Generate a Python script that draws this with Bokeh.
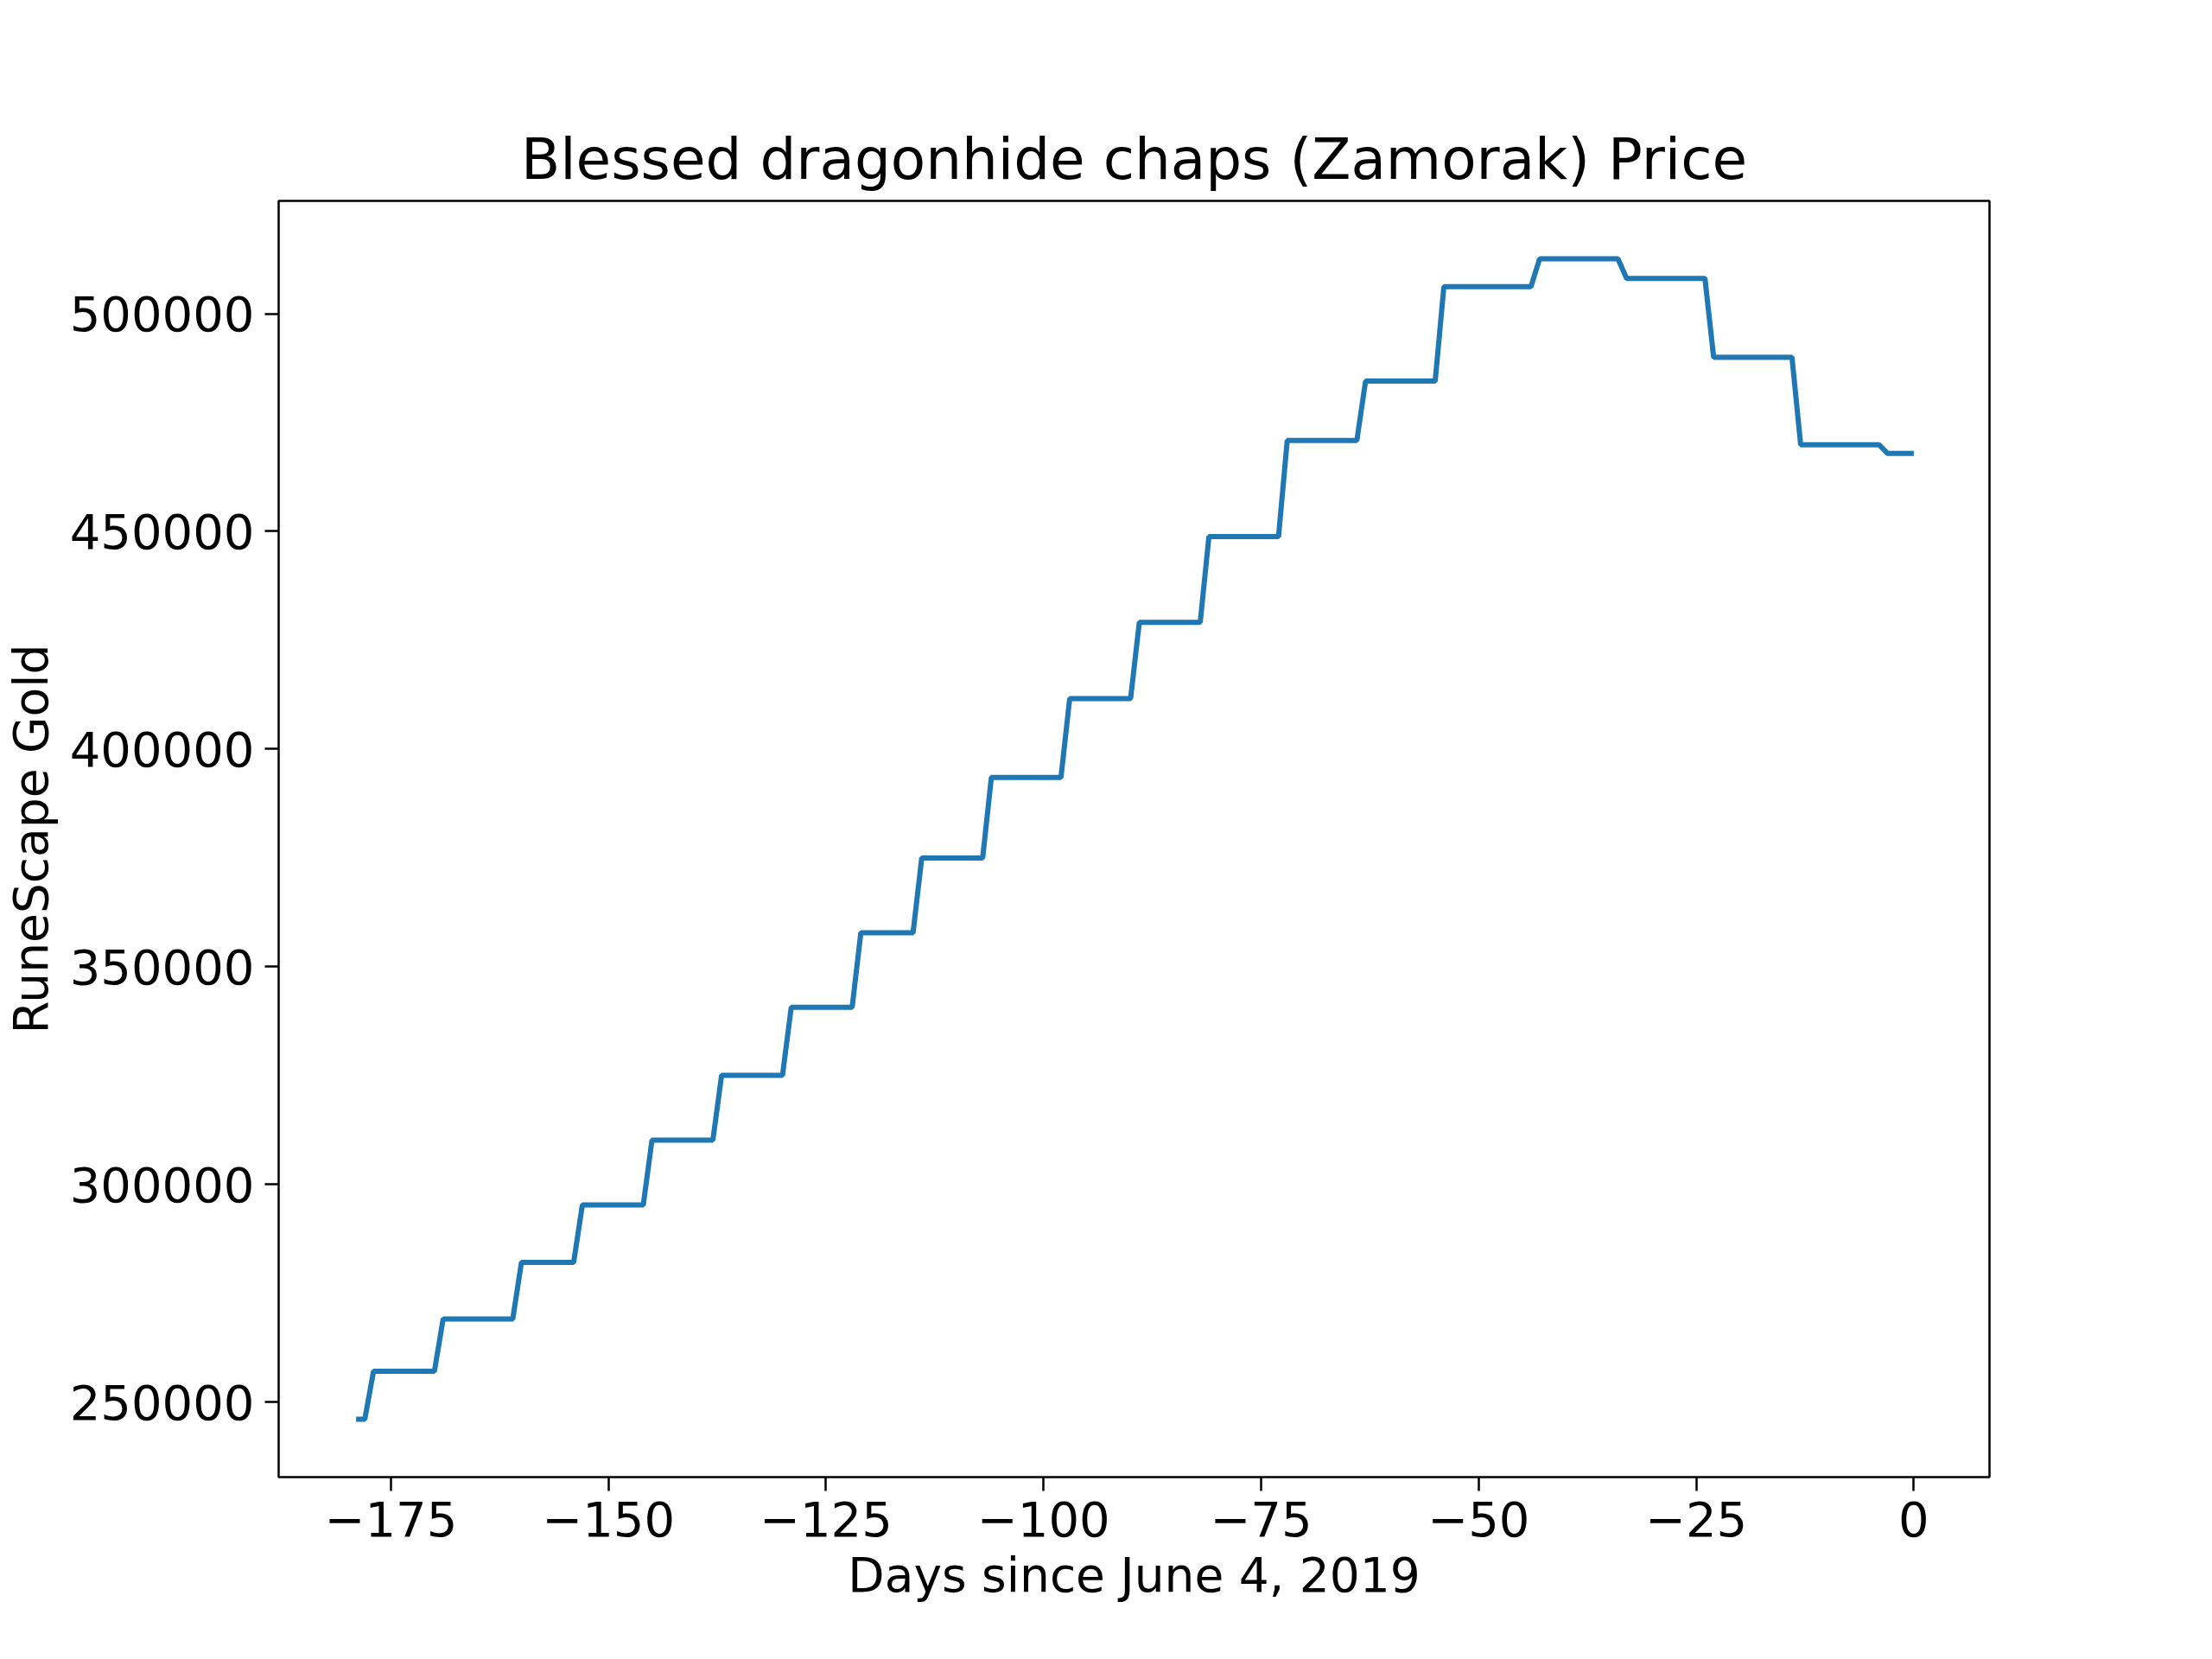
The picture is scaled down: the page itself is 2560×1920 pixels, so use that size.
from bokeh.plotting import figure
from bokeh.models import FixedTicker, Range1d
from bokeh.embed import file_html
from bokeh.resources import INLINE

# price history (day, gold) at each step corner
days = [-179, -178, -177, -170, -169, -161, -160, -154, -153, -146, -145, -138, -137,
        -130, -129, -122, -121, -115, -114, -107, -106, -98, -97, -90, -89, -82, -81,
        -73, -72, -64, -63, -55, -54, -44, -43, -34, -33, -24, -23, -14, -13, -4, -3, 0]
gold = [246100, 246100, 257100, 257100, 269100, 269100, 282100, 282100, 295300, 295300,
        310200, 310200, 325100, 325100, 340700, 340700, 357800, 357800, 375000, 375000,
        393500, 393500, 411600, 411600, 429100, 429100, 448800, 448800, 470900, 470900,
        484500, 484500, 506200, 506200, 512600, 512600, 508100, 508100, 490000, 490000,
        469900, 469900, 467900, 467900]

x_ticks = [-175, -150, -125, -100, -75, -50, -25, 0]
y_ticks = [250000, 300000, 350000, 400000, 450000, 500000]

FONT = "DejaVu Sans"

p = figure(width=2544, height=1904, output_backend="svg", toolbar_location=None,
           title="Blessed dragonhide chaps (Zamorak) Price",
           x_axis_label="Days since June 4, 2019", y_axis_label="RuneScape Gold",
           x_range=Range1d(-187.9, 8.7), y_range=Range1d(232800, 525900),
           min_border_left=320, min_border_right=242, min_border_top=232, min_border_bottom=195)

p.line(days, gold, line_width=6, color="#1f77b4")

p.xgrid.visible = False
p.ygrid.visible = False
p.outline_line_color = "black"
p.outline_line_width = 2.5

p.title.align = "center"
p.title.text_font = FONT
p.title.text_font_size = "66px"
p.title.text_font_style = "normal"
p.title.text_color = "black"
p.title.standoff = 20

p.xaxis.ticker = FixedTicker(ticks=x_ticks)
p.yaxis.ticker = FixedTicker(ticks=y_ticks)
p.xaxis.major_label_overrides = {t: str(t).replace("-", "\u2212") for t in x_ticks}
p.yaxis.major_label_overrides = {t: str(t) for t in y_ticks}

for ax in (p.xaxis, p.yaxis):
    ax.axis_line_color = None
    ax.minor_tick_line_color = None
    ax.major_tick_in = 0
    ax.major_tick_out = 16
    ax.major_tick_line_width = 2.5
    ax.major_label_text_font = FONT
    ax.major_label_text_font_size = "56px"
    ax.major_label_text_color = "black"
    ax.axis_label_text_font = FONT
    ax.axis_label_text_font_size = "55px"
    ax.axis_label_text_font_style = "normal"
    ax.axis_label_text_color = "black"
    ax.major_label_standoff = 12
    ax.axis_label_standoff = 10

open("out.html", "w").write(file_html(p, INLINE))
